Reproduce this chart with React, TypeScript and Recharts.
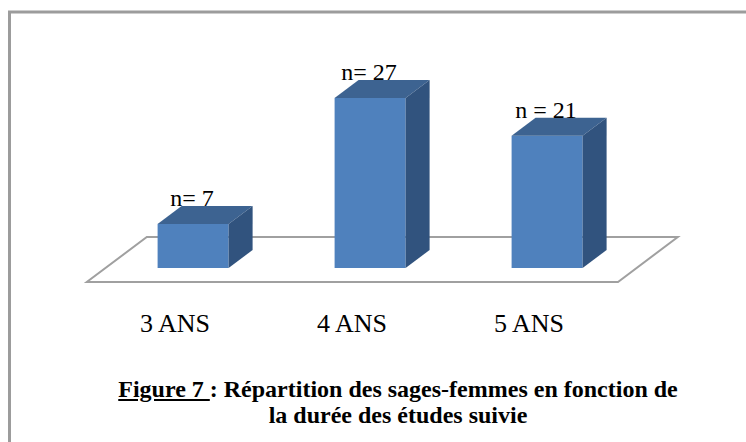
import React from 'react';
import { BarChart, Bar, XAxis, YAxis, LabelList } from 'recharts';

const categories = ['3 ANS', '4 ANS', '5 ANS'];
const counts = [7, 27, 21];
const countLabels = ['n= 7', 'n= 27', 'n = 21'];

const W = 746;
const H = 442;
const MARGIN = { top: 79, right: 110.5, left: 104.5, bottom: 114 };
const DEPTH = { dx: 24, dy: -18 };
const SERIF = '"Liberation Serif", "Times New Roman", serif';

const data = categories.map((cat, i) => ({ cat, n: counts[i], label: countLabels[i] }));

// floor plane drawn once, before the first bar, so the bars cover it
const Floor = ({ base }: { base: number }) => {
  const left = MARGIN.left;
  const right = W - MARGIN.right;
  const pts = [
    [left - 17.7, base + 14],
    [right - 17.5, base + 14],
    [right + 42.3, base - 31],
    [left + 42.3, base - 31],
  ]
    .map((p) => p.join(','))
    .join(' ');
  return <polygon points={pts} fill="#fff" stroke="#a0a0a0" strokeWidth={2} />;
};

const Bar3D = (props: any) => {
  const { x, y, width: w, height: h, index } = props;
  const { dx, dy } = DEPTH;
  return (
    <g>
      {index === 0 && <Floor base={y + h} />}
      <rect x={x} y={y} width={w} height={h} fill="#4F81BD" />
      <polygon
        points={`${x},${y} ${x + dx},${y + dy} ${x + w + dx},${y + dy} ${x + w},${y}`}
        fill="#3D6391"
      />
      <polygon
        points={`${x + w},${y} ${x + w + dx},${y + dy} ${x + w + dx},${y + h + dy} ${x + w},${y + h}`}
        fill="#31537E"
      />
    </g>
  );
};

const CountLabel = (props: any) => {
  const { x, y, width, value } = props;
  return (
    <text x={x + width / 2 - 1} y={y + DEPTH.dy} textAnchor="middle" fontSize={24} fontFamily={SERIF} fill="#000">
      {value}
    </text>
  );
};

const CatTick = (props: any) => {
  const { x, y, payload } = props;
  return (
    <text x={x - 18} y={y + 64} textAnchor="middle" fontSize={26} fontFamily={SERIF} fill="#000">
      {payload.value}
    </text>
  );
};

const captionStyle: React.CSSProperties = {
  position: 'absolute',
  left: 0,
  width: 796,
  textAlign: 'center',
  fontFamily: SERIF,
  fontWeight: 'bold',
  fontSize: 24,
  lineHeight: '24px',
  whiteSpace: 'nowrap',
  color: '#000',
};

export default function App() {
  return (
    <div style={{ position: 'absolute', left: 0, top: 0, width: W, height: H, background: '#fff' }}>
      <BarChart width={W} height={H} data={data} margin={MARGIN} barCategoryGap="30%">
        <XAxis
          dataKey="cat"
          axisLine={false}
          tickLine={false}
          tickSize={0}
          tickMargin={0}
          height={60}
          interval={0}
          tick={<CatTick />}
        />
        <YAxis hide domain={[0, 30]} />
        <Bar dataKey="n" shape={Bar3D} isAnimationActive={false}>
          <LabelList dataKey="label" content={CountLabel} />
        </Bar>
      </BarChart>
      <svg width={W} height={H} style={{ position: 'absolute', left: 0, top: 0, pointerEvents: 'none' }}>
        <rect x={9.5} y={12} width={800} height={500} fill="none" stroke="#9c9c9c" strokeWidth={3} />
      </svg>
      <div style={{ ...captionStyle, top: 377 }}>
        <u>Figure 7 </u>: Répartition des sages-femmes en fonction de
      </div>
      <div style={{ ...captionStyle, top: 403 }}>la durée des études suivie</div>
    </div>
  );
}
